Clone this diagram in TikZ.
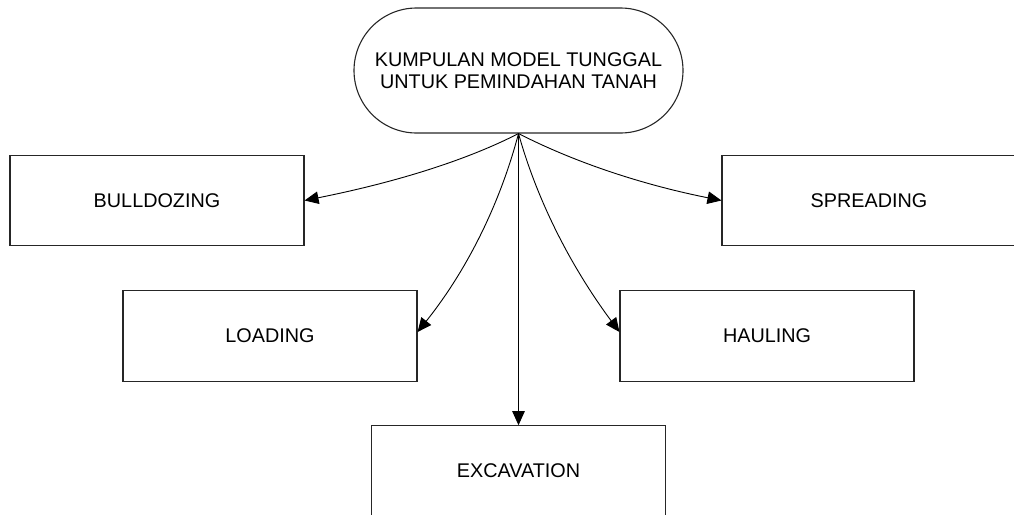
\documentclass[tikz,border=0pt]{standalone}
\usepackage{fontspec}
\setmainfont{Liberation Sans}
\usetikzlibrary{arrows.meta,shapes.misc}

\tikzset{
  boxline/.style={draw=black!85, line width=1.1pt},
  task/.style={boxline, rectangle, inner sep=0pt, minimum width=294pt, minimum height=90.5pt,
    font=\fontsize{19.8}{22.5}\selectfont},
  root/.style={boxline, rounded rectangle, inner sep=0pt, minimum width=329pt, minimum height=125pt,
    align=center, font=\fontsize{19.8}{22.5}\selectfont},
  link/.style={draw=black, line width=0.9pt, -{Triangle[length=14pt,width=12.5pt]}}
}

\begin{document}
\begin{tikzpicture}[x=1pt, y=-1pt]
  \useasboundingbox (0,0) rectangle (1014,514);
  \clip (0,0) rectangle (1014,514);

  % central node
  \node[root] (top) at (518.5,70.5) {KUMPULAN MODEL TUNGGAL\\UNTUK PEMINDAHAN TANAH};

  % activities
  \node[task] (bull) at (157,200.5) {BULLDOZING};
  \node[task] (spread) at (869,200.5) {SPREADING};
  \node[task] (load) at (270,336) {LOADING};
  \node[task] (haul) at (767,336) {HAULING};
  \node[task] (exc) at (518.5,471) {EXCAVATION};

  % connectors fanning out from the bottom of the central node
  \draw[link] (top.south) .. controls +(-53.6,27.5) and +(89.1,-17.8) .. (bull.east);
  \draw[link] (top.south) .. controls +(58.4,29.9) and +(-76.9,-15.4) .. (spread.west);
  \draw[link] (top.south) .. controls +(-19.1,72.4) and +(48.2,-60.3) .. ([yshift=4pt]load.east);
  \draw[link] (top.south) .. controls +(18.2,65.4) and +(-49.9,-67.3) .. ([yshift=4pt]haul.west);
  \draw[link] (top.south) -- (exc.north);
\end{tikzpicture}
\end{document}
